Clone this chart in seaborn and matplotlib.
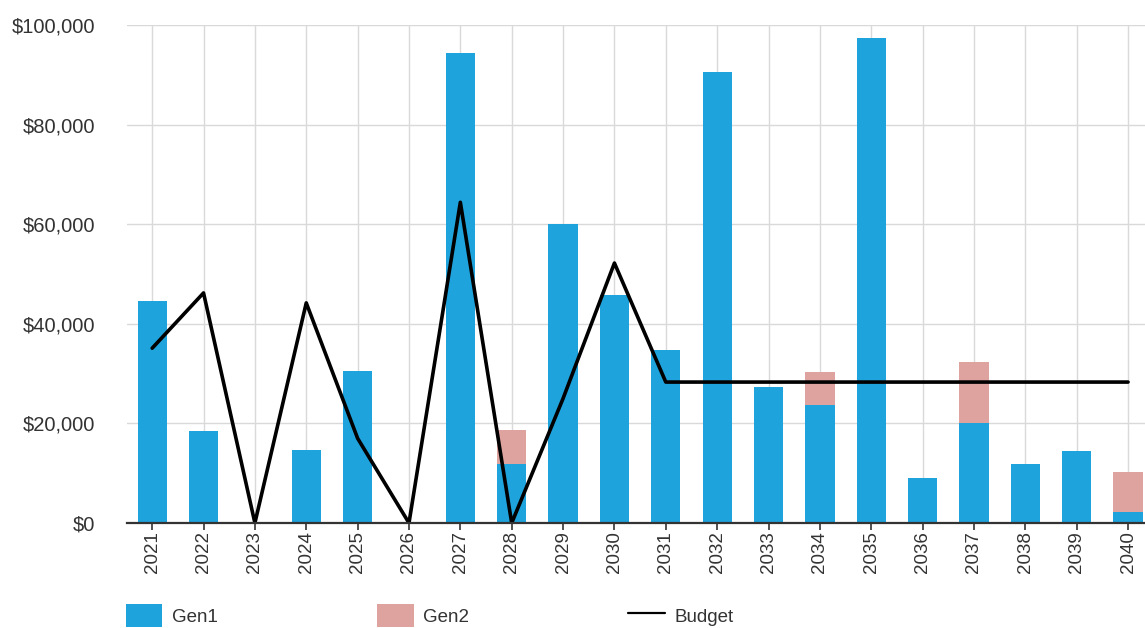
import numpy as np
import pandas as pd
import matplotlib
matplotlib.use("Agg")
import matplotlib.pyplot as plt
from matplotlib.ticker import FuncFormatter, MultipleLocator
from matplotlib.patches import Patch
from matplotlib.lines import Line2D
import seaborn as sns

years = [str(y) for y in range(2021, 2041)]
gen1 = [44500, 18500, 0, 14600, 30500, 0, 94300, 11800, 60000, 45800,
        34700, 90500, 27300, 23700, 97400, 9000, 20100, 11800, 14500, 2200]
gen2 = [0, 0, 0, 0, 0, 0, 0, 6800, 0, 0,
        0, 0, 0, 6600, 0, 0, 12200, 0, 0, 8000]
budget = [35100, 46200, 0, 44200, 17000, 0, 64400, 0, 25000, 52200,
          28300, 28300, 28300, 28300, 28300, 28300, 28300, 28300, 28300, 28300]

BLUE = "#1fa3dc"
PINK = "#dfa39f"

sns.set_theme(style="white")
plt.rcParams["font.family"] = ["Liberation Sans", "DejaVu Sans"]

df = pd.DataFrame({"year": years, "gen1": gen1, "gen2": gen2, "budget": budget})
df["total"] = df["gen1"] + df["gen2"]
df["pos"] = np.arange(len(df))

fig = plt.figure(figsize=(11.45, 6.28), dpi=100)
ax = fig.add_axes([127 / 1145, 1 - 523 / 628, 1 - 127 / 1145, (523 - 25) / 628])

# stacked bars: full height in Gen2 colour, Gen1 drawn over it
sns.barplot(data=df, x="year", y="total", color=PINK, saturation=1,
            width=0.57, linewidth=0, ax=ax, zorder=2)
sns.barplot(data=df, x="year", y="gen1", color=BLUE, saturation=1,
            width=0.57, linewidth=0, ax=ax, zorder=3)
sns.lineplot(data=df, x="pos", y="budget", color="black", linewidth=2.6,
             ax=ax, zorder=4)

ax.set_xlim(-0.49, 19.33)
ax.set_ylim(0, 100000)
ax.yaxis.set_major_locator(MultipleLocator(20000))
ax.yaxis.set_major_formatter(FuncFormatter(lambda v, _: f"${v:,.0f}"))
ax.set_xlabel("")
ax.set_ylabel("")

ax.grid(True, axis="both", color="#d9d9d9", linewidth=1.0, zorder=0)
ax.set_axisbelow(True)
for side in ["top", "right", "left"]:
    ax.spines[side].set_visible(False)
ax.spines["bottom"].set_color("#333333")
ax.spines["bottom"].set_linewidth(1.6)
ax.spines["bottom"].set_zorder(5)

ax.tick_params(axis="x", rotation=90, labelsize=13.5, colors="#333333",
               bottom=True, length=5, width=1.2, pad=1)
ax.tick_params(axis="y", labelsize=14.5, colors="#333333", left=False, pad=17)

handles = [
    Patch(facecolor=BLUE, edgecolor="none", label="Gen1"),
    Patch(facecolor=PINK, edgecolor="none", label="Gen2"),
    Line2D([0], [0], color="black", linewidth=1.6, label="Budget"),
]
fig.legend(handles=handles, loc="upper left",
           bbox_to_anchor=(109 / 1145, 1 - 587 / 628), ncol=3,
           frameon=False, fontsize=13.5, handlelength=1.95, handleheight=1.5,
           handletextpad=0.5, columnspacing=8.5, labelcolor="#333333")

fig.savefig("out.png", dpi=100)
